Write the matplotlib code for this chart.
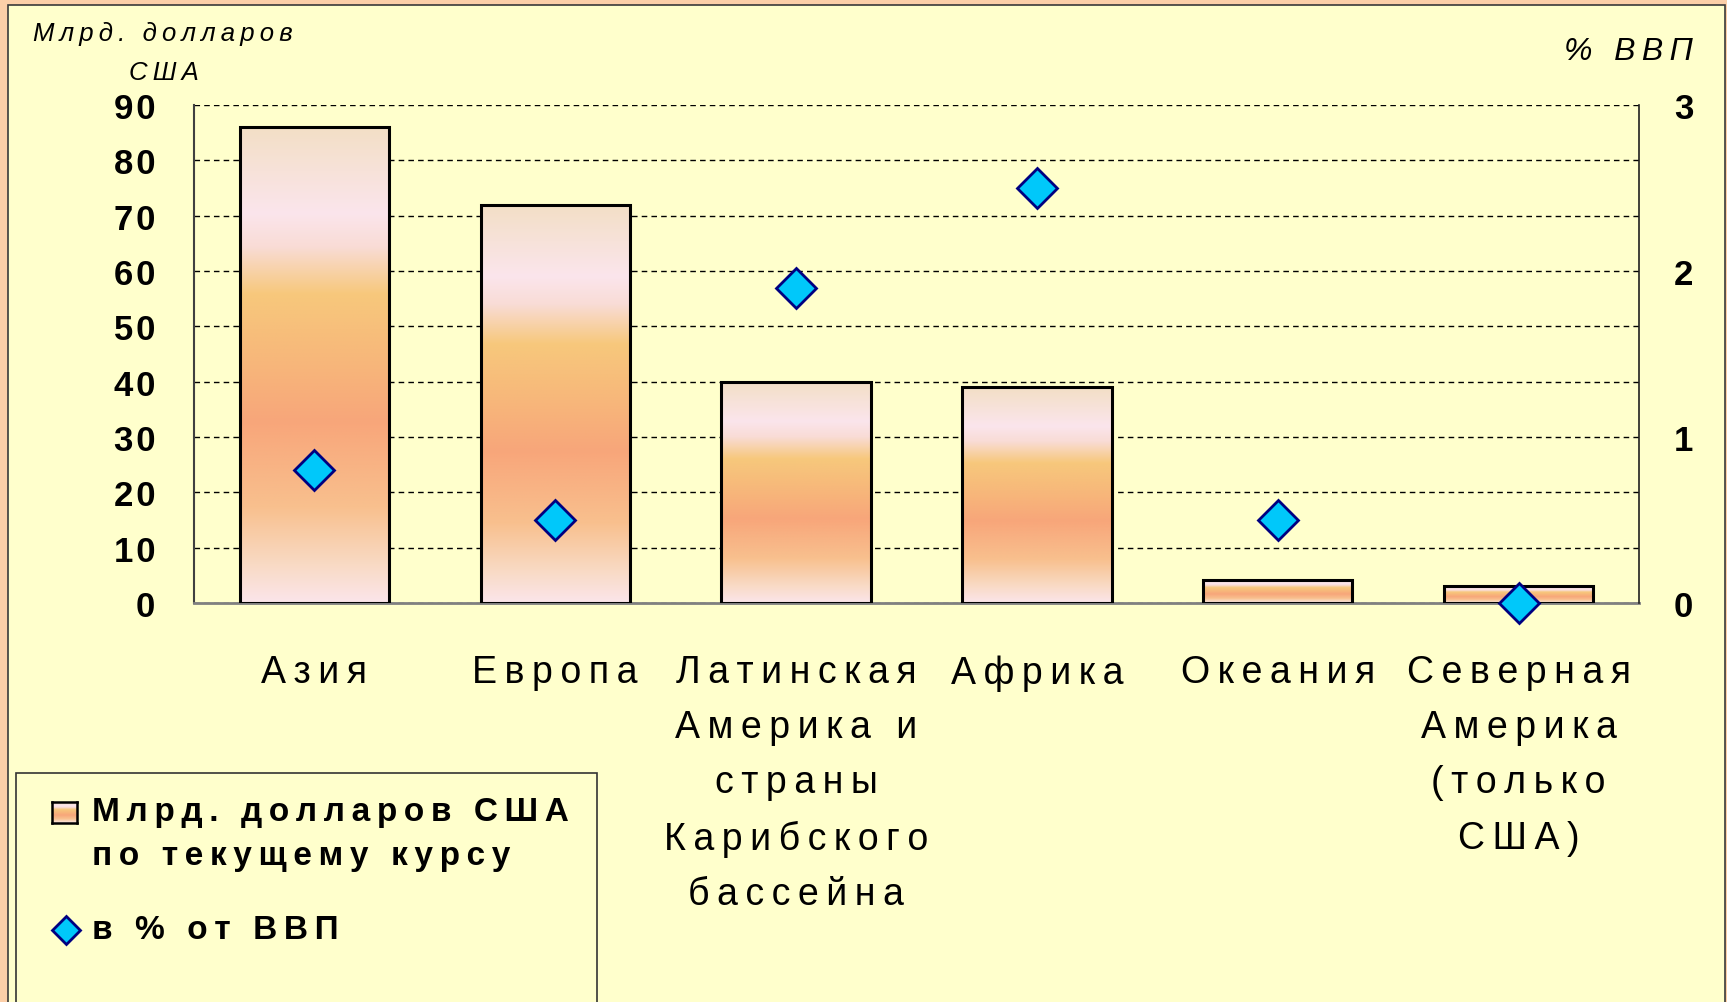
import numpy as np
import matplotlib
matplotlib.use("Agg")
import matplotlib.pyplot as plt
from matplotlib.colors import LinearSegmentedColormap
from matplotlib.patches import Rectangle
from matplotlib.lines import Line2D

# --- data ---
categories = ["Азия", "Европа",
              "Латинская\nАмерика и\nстраны\nКарибского\nбассейна",
              "Африка", "Океания", "Северная\nАмерика\n(только\nСША)"]
usd_bn = [86.0, 72.0, 40.0, 39.0, 4.2, 3.0]      # left axis, bn USD
pct_gdp = [0.8, 0.5, 1.9, 2.5, 0.5, 0.0]          # right axis, % of GDP
left_ticks = [0, 10, 20, 30, 40, 50, 60, 70, 80, 90]
right_ticks = [0, 1, 2, 3]

PEACH, YELLOW = "#fccfa8", "#ffffcc"
CYAN, NAVY = "#00c8fa", "#000080"
W, H = 1727, 1003

# top -> bottom gradient used inside every bar
grad_cmap = LinearSegmentedColormap.from_list("bar", [
    (0.00, "#f3dfc6"), (0.18, "#fbe5ec"), (0.25, "#f9dcd6"),
    (0.35, "#f7c87c"), (0.50, "#f7b67a"), (0.62, "#f8a67a"),
    (0.80, "#f8c08e"), (0.92, "#f9dac4"), (1.00, "#fbe5ea")])
grad = np.linspace(0, 1, 256).reshape(-1, 1)


def spaced(s, sep="\u2009"):
    # the original uses wide letter spacing everywhere
    return "\n".join(sep.join(line) for line in s.split("\n"))


plt.rcParams["font.family"] = ["Liberation Sans", "DejaVu Sans"]
fig = plt.figure(figsize=(W / 100, H / 100), dpi=100, facecolor=PEACH)

# yellow slide panel inside the peach frame
fig.add_artist(Rectangle((8 / W, -0.05), (1725 - 8) / W, (H - 6) / H + 0.05,
                         transform=fig.transFigure, facecolor=YELLOW,
                         edgecolor="#3a3a3a", lw=1.2, zorder=0))

ax = fig.add_axes([194 / W, 1 - 604 / H, (1639 - 194) / W, (604 - 106) / H])
ax.set_facecolor("none")
x = np.arange(len(categories)) + 0.5
bw = 0.62

for xi, v in zip(x, usd_bn):
    ax.imshow(grad, cmap=grad_cmap, extent=[xi - bw / 2, xi + bw / 2, 0, v],
              origin="upper", aspect="auto", zorder=2, interpolation="bilinear")
ax.bar(x, usd_bn, width=bw, facecolor="none", edgecolor="black", lw=2.2, zorder=3)

ax.set_xlim(0, 6)
ax.set_ylim(0, 90)
ax.set_yticks(left_ticks)
ax.set_yticklabels([spaced(str(t), "\u200a") for t in left_ticks], fontsize=25,
                   fontweight="bold")
ax.yaxis.grid(True, linestyle=(0, (4, 3)), color="black", lw=1)
ax.set_axisbelow(True)
ax.tick_params(axis="y", length=0, pad=28)
ax.set_xticks(x)
ax.set_xticklabels([spaced(c) for c in categories], fontsize=27, linespacing=1.68)
ax.tick_params(axis="x", length=0, pad=37)
for s in ("top", "right"):
    ax.spines[s].set_visible(False)
ax.spines["left"].set_color("#404040")
ax.spines["left"].set_linewidth(1.5)
ax.spines["bottom"].set_color("#808080")
ax.spines["bottom"].set_linewidth(2)

ax2 = ax.twinx()
ax2.set_ylim(0, 3)
ax2.set_yticks(right_ticks)
ax2.set_yticklabels([str(t) for t in right_ticks], fontsize=25, fontweight="bold")
ax2.tick_params(axis="y", length=0, pad=25)
for s in ("top", "left", "bottom"):
    ax2.spines[s].set_visible(False)
ax2.spines["right"].set_color("#202020")
ax2.spines["right"].set_linewidth(1.2)
ax2.plot(x, pct_gdp, linestyle="none", marker="D", ms=20, mfc=CYAN, mec=NAVY,
         mew=2, clip_on=False, zorder=5)

# axis titles
fig.text(163 / W, 1 - 34 / H, spaced("Млрд. долларов"), fontsize=18.5,
         style="italic", ha="center", va="center")
fig.text(164 / W, 1 - 73 / H, spaced("США"), fontsize=18.5, style="italic",
         ha="center", va="center")
fig.text(1693 / W, 1 - 52 / H, spaced("% ВВП"), fontsize=23, style="italic",
         ha="right", va="center")

# hand-made legend box
fig.add_artist(Rectangle((16 / W, -0.05), (597 - 16) / W, (H - 774) / H + 0.05,
                         transform=fig.transFigure, facecolor="none",
                         edgecolor="#333333", lw=1.2, zorder=1))
lax = fig.add_axes([52 / W, 1 - 824 / H, 25 / W, 21 / H])
lax.imshow(grad, cmap=grad_cmap, aspect="auto", extent=[0, 1, 0, 1])
lax.set_xticks([])
lax.set_yticks([])
for s in lax.spines.values():
    s.set_linewidth(1.8)
fig.add_artist(Line2D([66 / W], [1 - 931 / H], marker="D", ms=14, mfc=CYAN, mec=NAVY,
                      mew=2, transform=fig.transFigure))
fig.text(92 / W, 1 - 813 / H, spaced("Млрд. долларов США"), fontsize=24,
         fontweight="bold", va="center")
fig.text(92 / W, 1 - 857 / H, spaced("по текущему курсу"), fontsize=24,
         fontweight="bold", va="center")
fig.text(92 / W, 1 - 931 / H, spaced("в % от ВВП"), fontsize=24,
         fontweight="bold", va="center")

fig.savefig("out.png", dpi=100, facecolor=PEACH)
